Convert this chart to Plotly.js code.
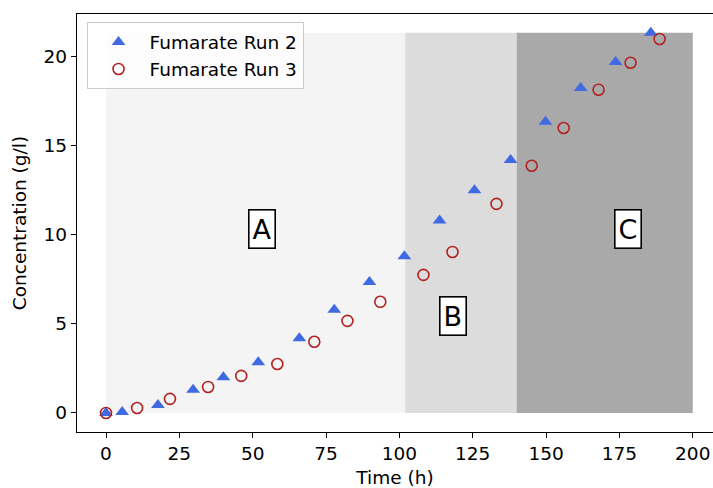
<!DOCTYPE html>
<html><head><meta charset="utf-8">
<script src="https://cdn.plot.ly/plotly-3.0.1.min.js"></script>
<style>body{margin:0;padding:0;}#chart{width:713px;height:488px;}</style>
</head><body><div id="chart"></div>
<script>
const run2Time = [0, 5.5, 17.7, 29.7, 40, 51.9, 65.9, 77.8, 89.8, 101.7, 113.7, 125.6, 137.9, 149.8, 161.8, 173.7, 185.7];
const run2Conc = [0, 0.05, 0.45, 1.3, 2.0, 2.85, 4.2, 5.8, 7.35, 8.8, 10.8, 12.5, 14.2, 16.35, 18.25, 19.7, 21.35];
const run3Time = [0, 10.6, 21.8, 34.8, 46.1, 58.4, 71, 82.3, 93.5, 108.2, 118.1, 133.1, 145.1, 156, 167.9, 178.8, 188.7];
const run3Conc = [0, 0.28, 0.79, 1.46, 2.08, 2.75, 4.0, 5.17, 6.24, 7.75, 9.04, 11.74, 13.88, 16.0, 18.15, 19.66, 21.0];
const phaseLabels = ["A", "B", "C"];
const phaseStart = [0, 102, 140];
const phaseEnd = [102, 140, 200];
const phaseColors = ["#f4f4f4", "#dcdcdc", "#a9a9a9"];
const phaseTop = 21.35;
const labelX = [53.2, 118.3, 178];
const labelY = [10.34, 5.45, 10.34];

const traces = [
  {x: run2Time, y: run2Conc, mode: "markers", type: "scatter", name: "Fumarate Run 2",
   marker: {symbol: "triangle-up", size: 12, color: "royalblue"}},
  {x: run3Time, y: run3Conc, mode: "markers", type: "scatter", name: "Fumarate Run 3",
   marker: {symbol: "circle-open", size: 11, color: "firebrick", line: {width: 1.6, color: "firebrick"}}}
];
const shapes = phaseStart.map((s, i) => ({type: "rect", xref: "x", yref: "y", x0: s, x1: phaseEnd[i], y0: 0, y1: phaseTop,
  fillcolor: phaseColors[i], line: {width: 0}, layer: "below"}));
const annotations = phaseLabels.map((t, i) => ({x: labelX[i], y: labelY[i], xref: "x", yref: "y", text: t, showarrow: false,
  font: {size: 27, color: "black", family: "DejaVu Sans"}, bgcolor: "white", bordercolor: "black", borderwidth: 1.6, borderpad: 3}));

const layout = {
  width: 713, height: 488,
  margin: {l: 77, r: 0, t: 14, b: 56},
  paper_bgcolor: "white", plot_bgcolor: "white",
  font: {family: "DejaVu Sans", size: 18.5, color: "black"},
  showlegend: true,
  legend: {x: 0.015, y: 0.98, xanchor: "left", yanchor: "top", bgcolor: "rgba(255,255,255,0.8)",
    bordercolor: "#cccccc", borderwidth: 1, font: {size: 18.5}, itemwidth: 52, tracegroupgap: 0},
  xaxis: {range: [-9.886, 206.9], tickvals: [0,25,50,75,100,125,150,175,200], showgrid: false, zeroline: false,
    showline: true, linecolor: "black", linewidth: 1.2, mirror: true, ticks: "outside", ticklen: 5, tickcolor: "black",
    tickfont: {size: 18.5}, title: {text: "Time (h)", font: {size: 18.5}, standoff: 8}},
  yaxis: {range: [-1.07, 22.4], tickvals: [0,5,10,15,20], showgrid: false, zeroline: false,
    showline: true, linecolor: "black", linewidth: 1.2, ticks: "outside", ticklen: 5, tickcolor: "black",
    tickfont: {size: 18.5}, title: {text: "Concentration (g/l)", font: {size: 18.5}, standoff: 12}},
  shapes: shapes, annotations: annotations
};
Plotly.newPlot("chart", traces, layout, {staticPlot: true});
</script></body></html>
